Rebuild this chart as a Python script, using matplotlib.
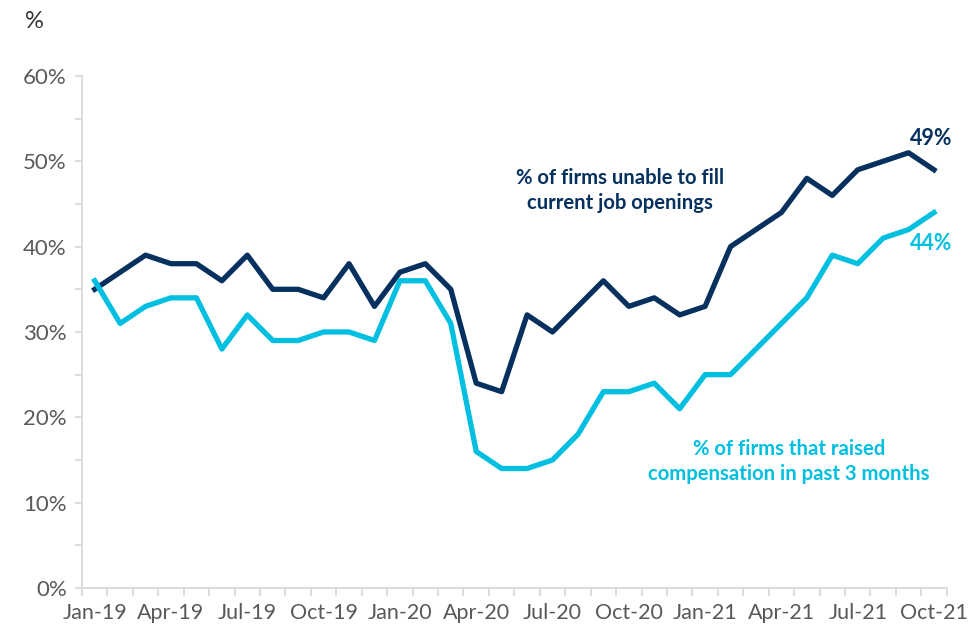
import matplotlib
matplotlib.use('Agg')
import matplotlib.pyplot as plt
from matplotlib.ticker import MultipleLocator, FuncFormatter

plt.rcParams['font.family'] = ['Lato', 'DejaVu Sans']

# 月份与两条序列（%）
months = ['Jan-19', 'Feb-19', 'Mar-19', 'Apr-19', 'May-19', 'Jun-19', 'Jul-19', 'Aug-19',
          'Sep-19', 'Oct-19', 'Nov-19', 'Dec-19', 'Jan-20', 'Feb-20', 'Mar-20', 'Apr-20',
          'May-20', 'Jun-20', 'Jul-20', 'Aug-20', 'Sep-20', 'Oct-20', 'Nov-20', 'Dec-20',
          'Jan-21', 'Feb-21', 'Mar-21', 'Apr-21', 'May-21', 'Jun-21', 'Jul-21', 'Aug-21',
          'Sep-21', 'Oct-21']
unable_to_fill = [35, 37, 39, 38, 38, 36, 39, 35, 35, 34, 38, 33, 37, 38, 35, 24,
                  23, 32, 30, 33, 36, 33, 34, 32, 33, 40, 42, 44, 48, 46, 49, 50, 51, 49]
raised_comp = [36, 31, 33, 34, 34, 28, 32, 29, 29, 30, 30, 29, 36, 36, 31, 16,
               14, 14, 15, 18, 23, 23, 24, 21, 25, 25, 28, 31, 34, 39, 38, 41, 42, 44]

navy = '#06315F'
cyan = '#00BFE0'
grey_txt = '#595959'
axis_col = '#D9D9D9'

fig = plt.figure(figsize=(9.76, 6.26), dpi=100)
ax = fig.add_axes([0.084, 0.0607, 0.886, 0.818])

x = list(range(len(months)))
ax.plot(x, unable_to_fill, color=navy, linewidth=3.8, solid_joinstyle='round')
ax.plot(x, raised_comp, color=cyan, linewidth=3.8, solid_joinstyle='round')

ax.set_xlim(-0.5, len(months) - 0.5)
ax.set_ylim(0, 60)

# y 轴：每 10% 标签，每 5% 刻度
ax.yaxis.set_major_locator(MultipleLocator(10))
ax.yaxis.set_minor_locator(MultipleLocator(5))
ax.yaxis.set_major_formatter(FuncFormatter(lambda v, p: f'{v:.0f}%'))

# x 轴：刻度在类别之间，标签每季度
ax.set_xticks([i - 0.5 for i in range(len(months) + 1)])
ax.set_xticklabels([])
ax.set_xticks(x[::3], minor=True)
ax.set_xticklabels(months[::3], minor=True)

for s in ['top', 'right']:
    ax.spines[s].set_visible(False)
for s in ['left', 'bottom']:
    ax.spines[s].set_color(axis_col)
    ax.spines[s].set_linewidth(1.3)

ax.tick_params(axis='y', which='both', length=5, width=1.3, color=axis_col,
               labelsize=16, labelcolor=grey_txt, pad=6)
ax.tick_params(axis='x', which='major', length=6, width=1.3, color=axis_col)
ax.tick_params(axis='x', which='minor', length=0, labelsize=15.5, labelcolor=grey_txt, pad=11)

fig.text(25 / 976, 1 - 22 / 626, '%', fontsize=17, color='#333333', va='center', ha='left')

ax.text(20.67, 46.6, '% of firms unable to fill\ncurrent job openings', color=navy,
        fontsize=14.6, fontweight='bold', ha='center', va='center', linespacing=1.3)
ax.text(27.3, 14.8, '% of firms that raised\ncompensation in past 3 months', color=cyan,
        fontsize=14.6, fontweight='bold', ha='center', va='center', linespacing=1.3)
ax.text(32.9, 52.7, f'{unable_to_fill[-1]}%', color=navy, fontsize=15.5,
        fontweight='bold', ha='center', va='center')
ax.text(32.9, 40.4, f'{raised_comp[-1]}%', color=cyan, fontsize=15.5,
        fontweight='bold', ha='center', va='center')

fig.savefig('out.png', dpi=100)
